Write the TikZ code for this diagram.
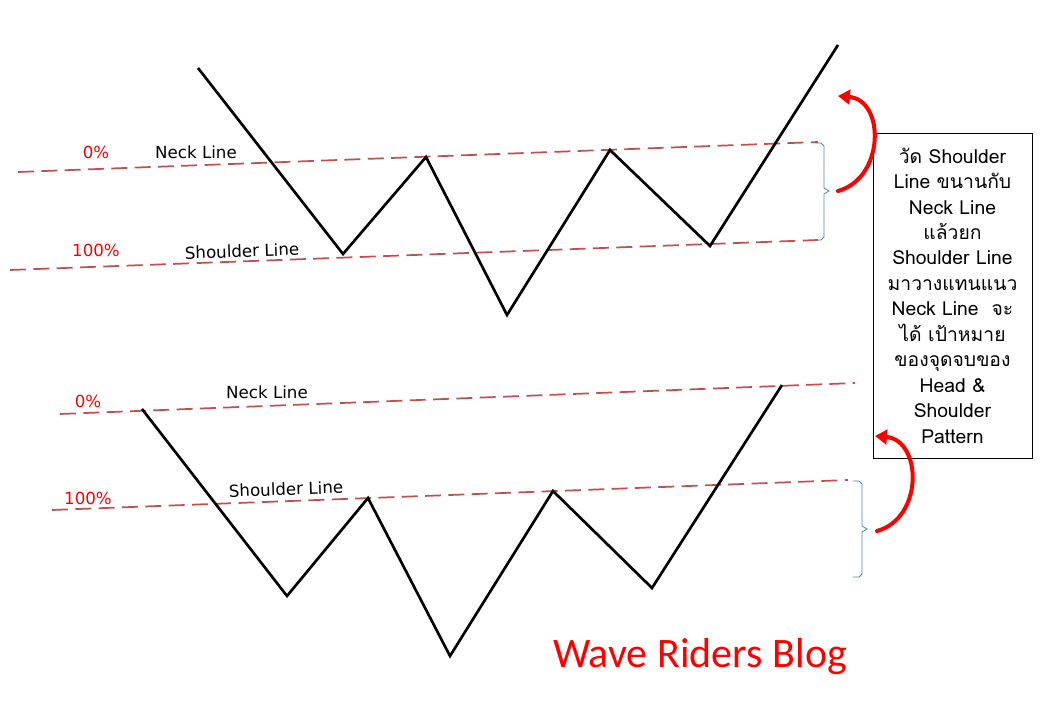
\documentclass[tikz,border=0pt]{standalone}
\usepackage{fontspec}
\setmainfont{DejaVu Sans}
\newfontfamily\thaifont[Script=Thai]{Loma}
\newfontfamily\blogfont{Carlito}
\usetikzlibrary{arrows.meta, positioning}
\definecolor{guideRed}{HTML}{C0504D}
\definecolor{braceBlue}{HTML}{4F81BD}

\begin{document}
\begin{tikzpicture}[x=0.75pt, y=-0.75pt,
  price/.style={line width=2pt, black, line join=miter},
  guide/.style={guideRed, line width=1.3pt, dash pattern=on 12pt off 5.5pt},
  pct/.style={font=\fontsize{12.5}{15}\selectfont, text=red, inner sep=0pt},
  lbl/.style={font=\fontsize{12.5}{15}\selectfont, inner sep=0pt},
  bracket/.style={braceBlue, line width=0.6pt},
  swing/.style={red, line width=3pt, line cap=round, -{Triangle[length=9pt, width=11pt]}}]

\useasboundingbox (0,0) rectangle (1040,720);

% upper pattern
\draw [guide] (18,172) coordinate (neckA) -- (818,142) coordinate (neckB);
\draw [guide] (10,270) coordinate (shldA) -- (818,240) coordinate (shldB);
\draw [price] (198,68) -- (343,254) -- (426,157) -- (507,315) -- (610,150) -- (710,246) -- (838,45);
\node [pct] (pctA0) at (96,152) {0\%};
\node [lbl] (neckLblA) at (196,152) {Neck Line};
\node [pct] (pctA1) at (96,250) {100\%};
\node [lbl, rotate=2] (shldLblA) at (242,251) {Shoulder Line};

% lower pattern
\draw [guide] (60,414) coordinate (neckC) -- (855,383) coordinate (neckD);
\draw [guide] (52,510) coordinate (shldC) -- (848,480) coordinate (shldD);
\draw [price] (142,409) -- (287,596) -- (368,498) -- (450,656) -- (553,491) -- (652,588) -- (782,385);
\node [pct] (pctB0) at (88,401) {0\%};
\node [lbl] (neckLblB) at (267,392) {Neck Line};
\node [pct] (pctB1) at (88,498) {100\%};
\node [lbl, rotate=2] (shldLblB) at (286,489) {Shoulder Line};

% brackets
\draw [bracket] (815,143) -- (821,143) -- (824,146) -- (824,188) -- (829,191) coordinate (tickA)
  -- (824,194) -- (824,237) -- (821,240) -- (815,240);
\draw [bracket] (853,481) -- (859,481) -- (862,484) -- (862,526) -- (867,529) coordinate (tickB)
  -- (862,532) -- (862,574) -- (859,577) -- (853,577);

% note
\node [draw, line width=0.6pt, minimum width=119.25pt, minimum height=243.75pt,
  text width=117pt, align=center, inner sep=0pt,
  font=\thaifont\fontsize{14.5}{19.1}\selectfont] (note) at (952.5,295.5)
  {วัด Shoulder\\ Line ขนานกับ\\ Neck Line\\ แล้วยก\\ Shoulder Line\\ มาวางแทนแนว\\
   Neck Line~~จะ\\ ได้ เป้าหมาย\\ ของจุดจบของ\\ Head \&\\ Shoulder\\ Pattern};

% arrows
\coordinate (arrA) at (838,191);
\coordinate (tipA) at (838,96);
\coordinate (arrB) at (877,531);
\coordinate (tipB) at (875,436);
\draw [swing] (arrA) .. controls (885,178) and (885,100) .. (tipA);
\draw [swing] (arrB) .. controls (924,518) and (922,440) .. (tipB);

\node [font=\blogfont\fontsize{31.5}{36}\selectfont, text=red, inner sep=0pt] (blog) at (700,657) {Wave Riders Blog};

\end{tikzpicture}
\end{document}
